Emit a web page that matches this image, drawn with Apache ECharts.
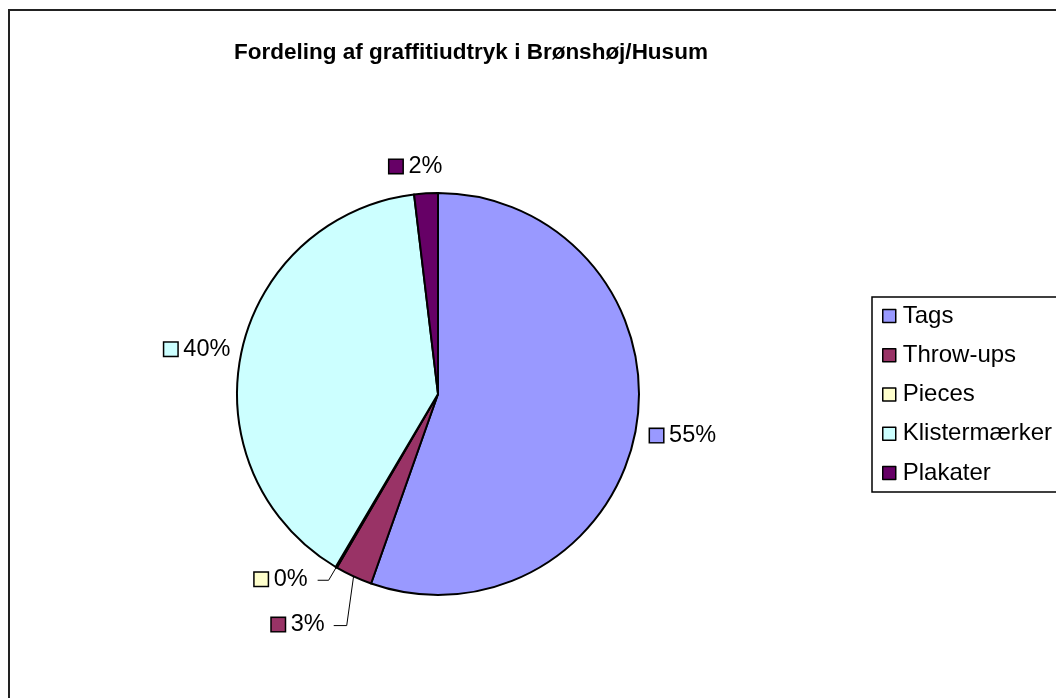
<!DOCTYPE html>
<html>
<head>
<meta charset="utf-8">
<script src="https://cdn.jsdelivr.net/npm/echarts@6/dist/echarts.min.js"></script>
<style>
  html, body { margin: 0; padding: 0; background: #fff; }
  #chart { width: 1056px; height: 698px; }
</style>
</head>
<body>
<div id="chart"></div>
<script>
const titleText = 'Fordeling af graffitiudtryk i Brønshøj/Husum';
const categories = ['Tags', 'Throw-ups', 'Pieces', 'Klistermærker', 'Plakater'];
const values = [55.4, 3.0, 0.1, 39.6, 1.9];
const colors = ['#9999FF', '#993366', '#FFFFCC', '#CCFFFF', '#660066'];

const FONT = '"Liberation Sans", Arial, Helvetica, sans-serif';

// per-slice label line styling (lengths only; positions come from the pie layout)
const lineCfg = [
  { show: false, length: 4, length2: 4 },
  { show: true, length: 52, length2: 10 },
  { show: true, length: 15, length2: 11 },
  { show: false, length: 2, length2: 4 },
  { show: false, length: 27, length2: 0 }
];
// small nudges of label boxes (px)
const labelNudge = [[0, 7], [9, 1], [-4, -1], [1, -3], [24, 0]];
// nudges of the label-line bend / end points for the Throw-ups leader
const lineNudge = { 1: [[15, 2], [12, 2]] };

const rich = {};
colors.forEach((c, i) => {
  rich['s' + i] = {
    width: 13, height: 13, backgroundColor: c,
    borderColor: '#000', borderWidth: 1.5
  };
});
rich.t = { fontSize: 23.5, fontFamily: FONT, color: '#000', padding: [0, 0, 0, 6] };

const chart = echarts.init(document.getElementById('chart'), null, { renderer: 'canvas' });

chart.setOption({
  backgroundColor: '#ffffff',
  animation: false,
  title: {
    text: titleText,
    left: 466,
    textAlign: 'center',
    top: 36,
    textStyle: { fontSize: 22.5, fontWeight: 'bold', fontFamily: FONT, color: '#000' }
  },
  graphic: [{
    type: 'rect',
    shape: { x: 9, y: 10, width: 1200, height: 900 },
    style: { fill: 'none', stroke: '#222', lineWidth: 2 },
    silent: true, z: -1
  }],
  legend: {
    orient: 'vertical',
    left: 872,
    top: 297,
    data: categories,
    padding: [7, 30, 7, 10],
    itemGap: 15.25,
    itemWidth: 13,
    itemHeight: 13,
    icon: 'rect',
    borderColor: '#000',
    borderWidth: 1.5,
    itemStyle: { borderColor: '#000', borderWidth: 1.5 },
    textStyle: { fontSize: 24, fontFamily: FONT, color: '#000', padding: [0, 0, 0, 2] }
  },
  series: [{
    type: 'pie',
    center: [438, 394],
    radius: 201,
    startAngle: 90,
    clockwise: true,
    avoidLabelOverlap: false,
    itemStyle: { borderColor: '#000', borderWidth: 2 },
    label: {
      show: true,
      position: 'outside',
      distanceToLabelLine: 6,
      formatter: p => `{s${p.dataIndex}|}{t|${Math.round(p.percent)}%}`,
      rich: rich
    },
    labelLine: { lineStyle: { color: '#000', width: 1 } },
    labelLayout: function (params) {
      const n = labelNudge[params.dataIndex];
      const out = { dx: n[0], dy: n[1] };
      const ln = lineNudge[params.dataIndex];
      const pts = params.labelLinePoints;
      if (ln && pts && pts.length === 3) {
        out.labelLinePoints = [
          [pts[0][0], pts[0][1]],
          [pts[1][0] + ln[0][0], pts[1][1] + ln[0][1]],
          [pts[2][0] + ln[1][0], pts[2][1] + ln[1][1]]
        ];
      }
      return out;
    },
    data: categories.map((name, i) => ({
      name: name,
      value: values[i],
      itemStyle: { color: colors[i] },
      labelLine: { show: lineCfg[i].show, length: lineCfg[i].length, length2: lineCfg[i].length2, lineStyle: { color: '#000', width: 1 } }
    }))
  }]
});
</script>
</body>
</html>
